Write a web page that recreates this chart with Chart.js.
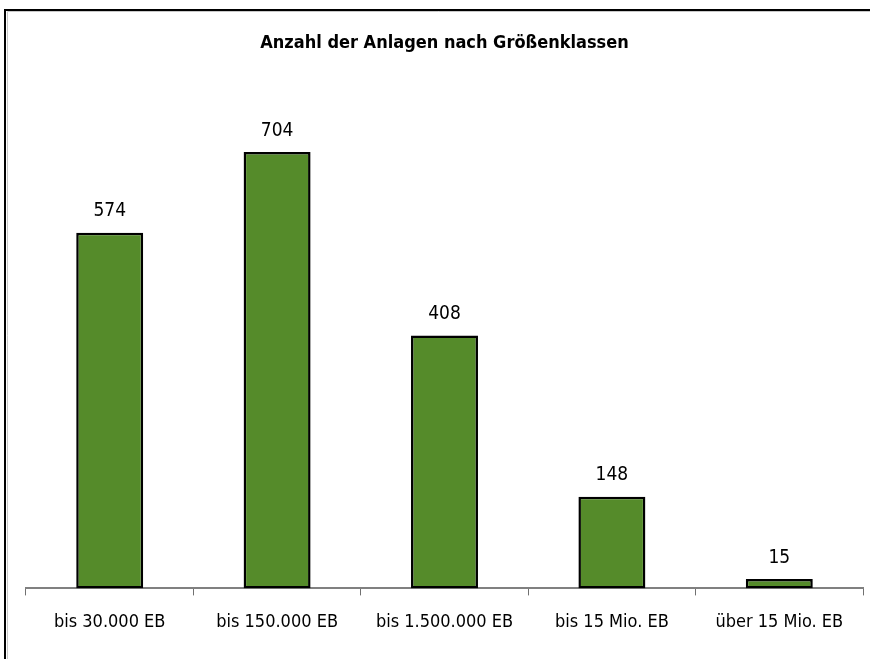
<!DOCTYPE html>
<html>
<head>
<meta charset="utf-8">
<script src="https://cdn.jsdelivr.net/npm/chart.js@4/dist/chart.umd.min.js"></script>
<style>
  html, body { margin: 0; padding: 0; background: #fff; }
  #wrap { width: 870px; height: 659px; position: relative; }
</style>
</head>
<body>
<div id="wrap"><canvas id="groessenChart" width="870" height="659"></canvas></div>
<script>
// Anzahl der Anlagen je Größenklasse
const categories = ['bis 30.000 EB', 'bis 150.000 EB', 'bis 1.500.000 EB', 'bis 15 Mio. EB', 'über 15 Mio. EB'];
const anlagen = [574, 704, 408, 148, 15];

const fontFamily = '"Liberation Sans Narrow", "DejaVu Sans Condensed", sans-serif';
Chart.defaults.font.family = fontFamily;
Chart.defaults.color = '#000';

// Werte über den Balken und Rahmen links/oben
const valueLabels = {
    id: 'valueLabels',
    afterDatasetsDraw(chart) {
        const ctx = chart.ctx;
        const meta = chart.getDatasetMeta(0);
        ctx.save();
        ctx.font = '19px ' + fontFamily;
        ctx.fillStyle = '#000';
        ctx.textAlign = 'center';
        ctx.textBaseline = 'bottom';
        meta.data.forEach(function (bar, i) {
            ctx.fillText(anlagen[i], bar.x, bar.y - 12);
        });
        ctx.restore();
    },
    afterDraw(chart) {
        const ctx = chart.ctx;
        ctx.save();
        ctx.strokeStyle = '#000';
        ctx.lineWidth = 2;
        ctx.beginPath();
        ctx.moveTo(5, 659);
        ctx.lineTo(5, 10);
        ctx.lineTo(870, 10);
        ctx.stroke();
        ctx.strokeStyle = '#c8c8c8';
        ctx.lineWidth = 1;
        ctx.beginPath();
        ctx.moveTo(7.5, 659);
        ctx.lineTo(7.5, 11.5);
        ctx.lineTo(870, 11.5);
        ctx.stroke();
        ctx.restore();
    }
};

var ctx = document.getElementById('groessenChart');
var groessenChart = new Chart(ctx, {
    type: 'bar',
    data: {
        labels: categories,
        datasets: [{
            data: anlagen,
            backgroundColor: '#558b2a',
            borderColor: '#000',
            borderWidth: 2.5,
            borderSkipped: false,
            barPercentage: 0.4,
            categoryPercentage: 1.0
        }]
    },
    options: {
        responsive: false,
        animation: false,
        layout: {
            padding: { left: 26, right: 7, top: 0, bottom: 10 }
        },
        plugins: {
            legend: { display: false },
            tooltip: { enabled: false },
            title: {
                display: true,
                text: 'Anzahl der Anlagen nach Größenklassen',
                font: { size: 18, weight: 'bold' },
                color: '#000',
                padding: { top: 33, bottom: 38 }
            }
        },
        scales: {
            x: {
                offset: true,
                grid: {
                    offset: true,
                    drawOnChartArea: false,
                    drawTicks: true,
                    tickLength: 7,
                    color: '#707070'
                },
                border: { display: true, color: '#808080', width: 2 },
                ticks: {
                    font: { size: 18 },
                    color: '#000',
                    padding: 16,
                    maxRotation: 0
                }
            },
            y: {
                display: false,
                min: 0,
                max: 800
            }
        }
    },
    plugins: [valueLabels]
});
</script>
</body>
</html>
